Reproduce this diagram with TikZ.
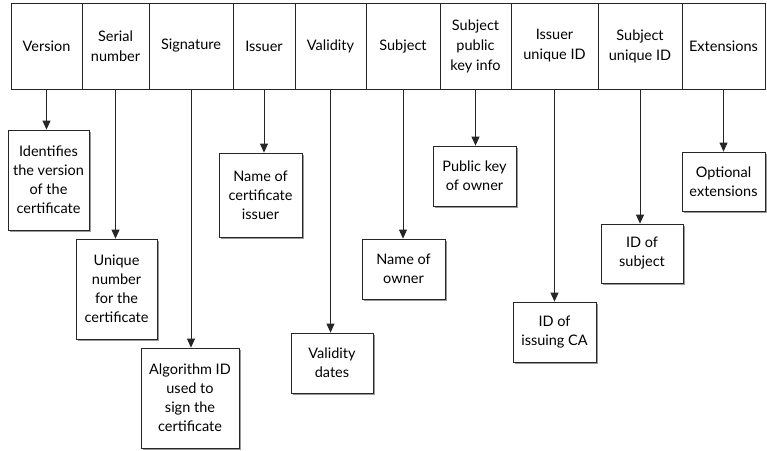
\documentclass[tikz,border=0pt]{standalone}
\usepackage{fontspec}
\setmainfont{Lato}
\usetikzlibrary{arrows.meta,shadows}

\tikzset{
  field/.style={draw=black!85, line width=0.8pt, align=center, inner sep=1pt,
    minimum height=86pt, font=\fontsize{14.5}{20}\selectfont},
  info/.style={draw=black!85, line width=0.8pt, fill=white, align=center, inner sep=1pt,
    font=\fontsize{14.5}{19}\selectfont,
    drop shadow={shadow xshift=1.6pt, shadow yshift=-1.6pt, fill=black!40, opacity=1}},
  pointer/.style={draw=black!85, line width=0.8pt, -{Triangle[width=8pt,length=9pt]}}
}

\begin{document}
\begin{tikzpicture}[x=1pt,y=-1pt]
\useasboundingbox (0,0) rectangle (767,450);

% the fields of the certificate
\node[field, minimum width=71pt] (version)  at (46.5,46)  {Version};
\node[field, minimum width=67pt] (serial)   at (115.5,46) {Serial\\number};
\node[field, minimum width=84pt] (sig)      at (191,46)   {Signature};
\node[field, minimum width=62pt] (issuer)   at (264,46)   {Issuer};
\node[field, minimum width=71pt] (validity) at (330.5,46) {Validity};
\node[field, minimum width=74pt] (subject)  at (403,46)   {Subject};
\node[field, minimum width=71pt] (pubkey)   at (475.5,46) {Subject\\public\\key info};
\node[field, minimum width=87pt] (issuid)   at (554.5,46) {Issuer\\unique ID};
\node[field, minimum width=84pt] (subjuid)  at (640,46)   {Subject\\unique ID};
\node[field, minimum width=83pt] (ext)      at (723.5,46) {Extensions};

% what each field holds
\node[info, minimum width=81pt, minimum height=100pt] (versioninfo)  at (48.5,180)  {Identifies\\the version\\of the\\certificate};
\node[info, minimum width=81pt, minimum height=100pt] (serialinfo)   at (116.5,289) {Unique\\number\\for the\\certificate};
\node[info, minimum width=98pt, minimum height=100pt] (siginfo)      at (190,398)   {Algorithm ID\\used to\\sign the\\certificate};
\node[info, minimum width=83pt, minimum height=84pt]  (issuerinfo)   at (260.5,195) {Name of\\certificate\\issuer};
\node[info, minimum width=82pt, minimum height=60pt]  (validityinfo) at (332,363)   {Validity\\dates};
\node[info, minimum width=83pt, minimum height=60pt]  (subjectinfo)  at (403.5,269) {Name of\\owner};
\node[info, minimum width=83pt, minimum height=60pt]  (pubkeyinfo)   at (474.5,176) {Public key\\of owner};
\node[info, minimum width=83pt, minimum height=60pt]  (issuidinfo)   at (554.5,332) {ID of\\issuing CA};
\node[info, minimum width=82pt, minimum height=59pt]  (subjuidinfo)  at (642,253.5) {ID of\\subject};
\node[info, minimum width=83pt, minimum height=59pt]  (extinfo)      at (723.5,181.5) {Optional\\extensions};

\foreach \f in {version,serial,sig,issuer,validity,subject,pubkey,issuid,subjuid,ext}
  \draw[pointer] (\f.south) -- (\f.south |- \f info.north);
\end{tikzpicture}
\end{document}
